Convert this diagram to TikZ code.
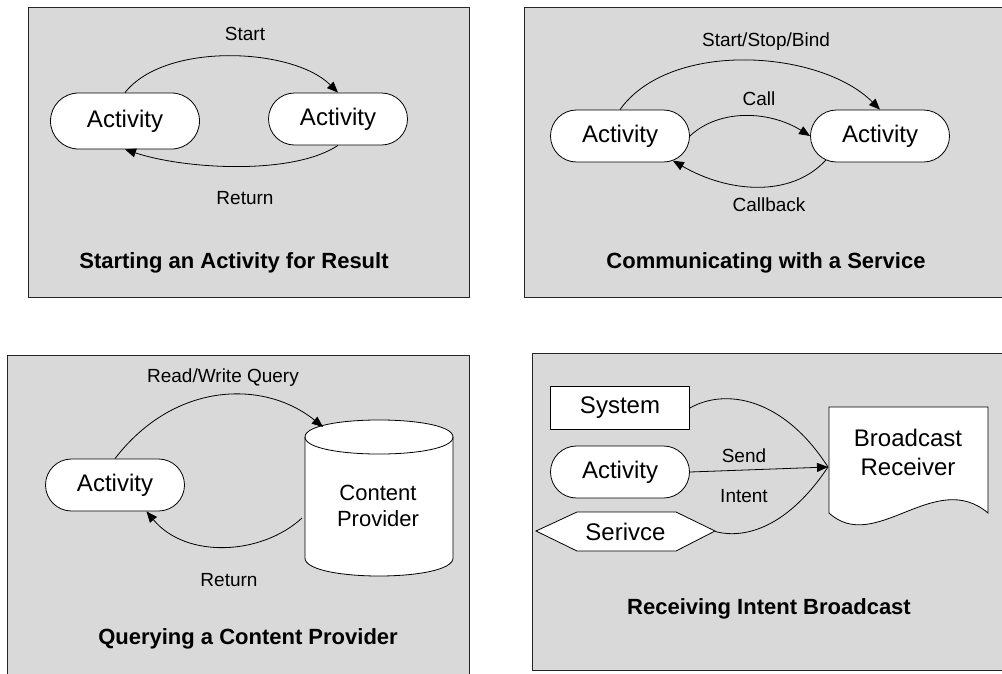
\documentclass[tikz,border=0pt]{standalone}
\usepackage{fontspec}
\setmainfont{Liberation Sans}
\usetikzlibrary{arrows.meta,shapes.misc,calc}
\begin{document}
\begin{tikzpicture}[x=1pt,y=-1pt,
  panel/.style={draw=black!85,line width=1pt,fill=gray!30},
  shp/.style={draw=black,line width=0.8pt,fill=white},
  big/.style={font=\fontsize{24}{28}\selectfont},
  act/.style={rounded rectangle,shp,big,minimum width=139pt,minimum height=52pt,inner sep=0pt},
  lbl/.style={font=\fontsize{19}{22}\selectfont,inner sep=0pt},
  ttl/.style={font=\fontsize{22}{26}\selectfont\bfseries,inner sep=0pt},
  conn/.style={line width=0.8pt,-{Triangle[length=11pt,width=9pt]}},
  plain/.style={line width=0.8pt}]
\useasboundingbox (0,0) rectangle (1002,673);
\clip (0,0) rectangle (1002,673);
% panels
\draw[panel] (28,7) rectangle (469,297);
\draw[panel] (524,7) rectangle (1012,297);
\draw[panel] (7,355) rectangle (469,690);
\draw[panel] (532,353) rectangle (1012,670);

% ---- panel 1
\node[act,minimum width=149pt,minimum height=56pt] (a1) at (125,121) {Activity};
\node[act] (a2) at (338,119) {Activity};
\node[lbl] (l1) at (245,34) {Start};
\node[lbl] (l2) at (245,198) {Return};
\node[ttl] (t1) at (234,263) {Starting an Activity for Result};
\draw[conn] (a1.north) .. controls +(40,-51) and +(-45,-45) .. (a2.north);
\draw[conn] (a2.south) .. controls +(-45,30) and +(60,20) .. (a1.south);

% ---- panel 2
\node[act] (b1) at (620,136) {Activity};
\node[act] (b2) at (880,136) {Activity};
\node[lbl] (l3) at (766,42) {Start/Stop/Bind};
\node[lbl] (l4) at (759,99) {Call};
\node[lbl] (l5) at (769,205) {Callback};
\node[ttl] (t2) at (766,263) {Communicating with a Service};
\draw[conn] (b1.north) .. controls +(50,-70) and +(-60,-60) .. (b2.north);
\draw[conn] (b1.east) .. controls +(30,-28) and +(-40,-25) .. (b2.west);
\draw[conn] (b2.204) .. controls +(-35,38) and +(55,32) .. (b1.335);

% ---- panel 3
\node[act] (c1) at (115,485) {Activity};
\draw[shp] (305,437) -- (305,558) .. controls (305,582) and (453,582) .. (453,558)
  -- (453,437) .. controls (453,414.3) and (305,414.3) .. (305,437) -- cycle;
\draw[plain] (305,437) .. controls (305,459.7) and (453,459.7) .. (453,437);
\node[font=\fontsize{22}{26}\selectfont,align=center,inner sep=0pt] (cp) at (378,506) {Content\\Provider};
\coordinate (cpin) at (323,427);
\coordinate (cpout) at (302,518);
\node[lbl] (l6) at (223,378) {Read/Write Query};
\node[lbl] (l7) at (229,580) {Return};
\node[ttl] (t3) at (248,639) {Querying a Content Provider};
\draw[conn] (c1.north) .. controls +(60,-78) and +(-58,-47) .. (cpin);
\draw[conn] (cpout) .. controls +(-40,37) and +(40,48) .. (c1.320);

% ---- panel 4
\node[shp,big,minimum width=139pt,minimum height=43pt,inner sep=0pt] (sys) at (620,408) {System};
\node[act] (d1) at (620,472) {Activity};
\draw[shp] (536,531) -- (577,512) -- (676,512) -- (715,531) -- (676,551) -- (577,551) -- cycle;
\node[big,minimum width=179pt,minimum height=39pt,inner sep=0pt] (sv) at (625.5,531.5) {Serivce};
\draw[shp] (829,513) -- (829,407) -- (988,407) -- (988,513)
  .. controls (935,468) and (875,555) .. (829,513) -- cycle;
\node[big,align=center,inner sep=0pt,font=\fontsize{24}{29}\selectfont] (br) at (908,452) {Broadcast\\Receiver};
\coordinate (brin) at (828,467);
\node[lbl] (l8) at (744,456) {Send};
\node[lbl] (l9) at (744,496) {Intent};
\node[ttl] (t4) at (769,609) {Receiving Intent Broadcast};
\draw[plain] (sys.east) .. controls +(35,-20) and +(-45,-70) .. (brin);
\draw[conn] (d1.east) -- (brin);
\draw[plain] (sv.east) .. controls +(30,8) and +(-40,60) .. (brin);
\end{tikzpicture}
\end{document}
